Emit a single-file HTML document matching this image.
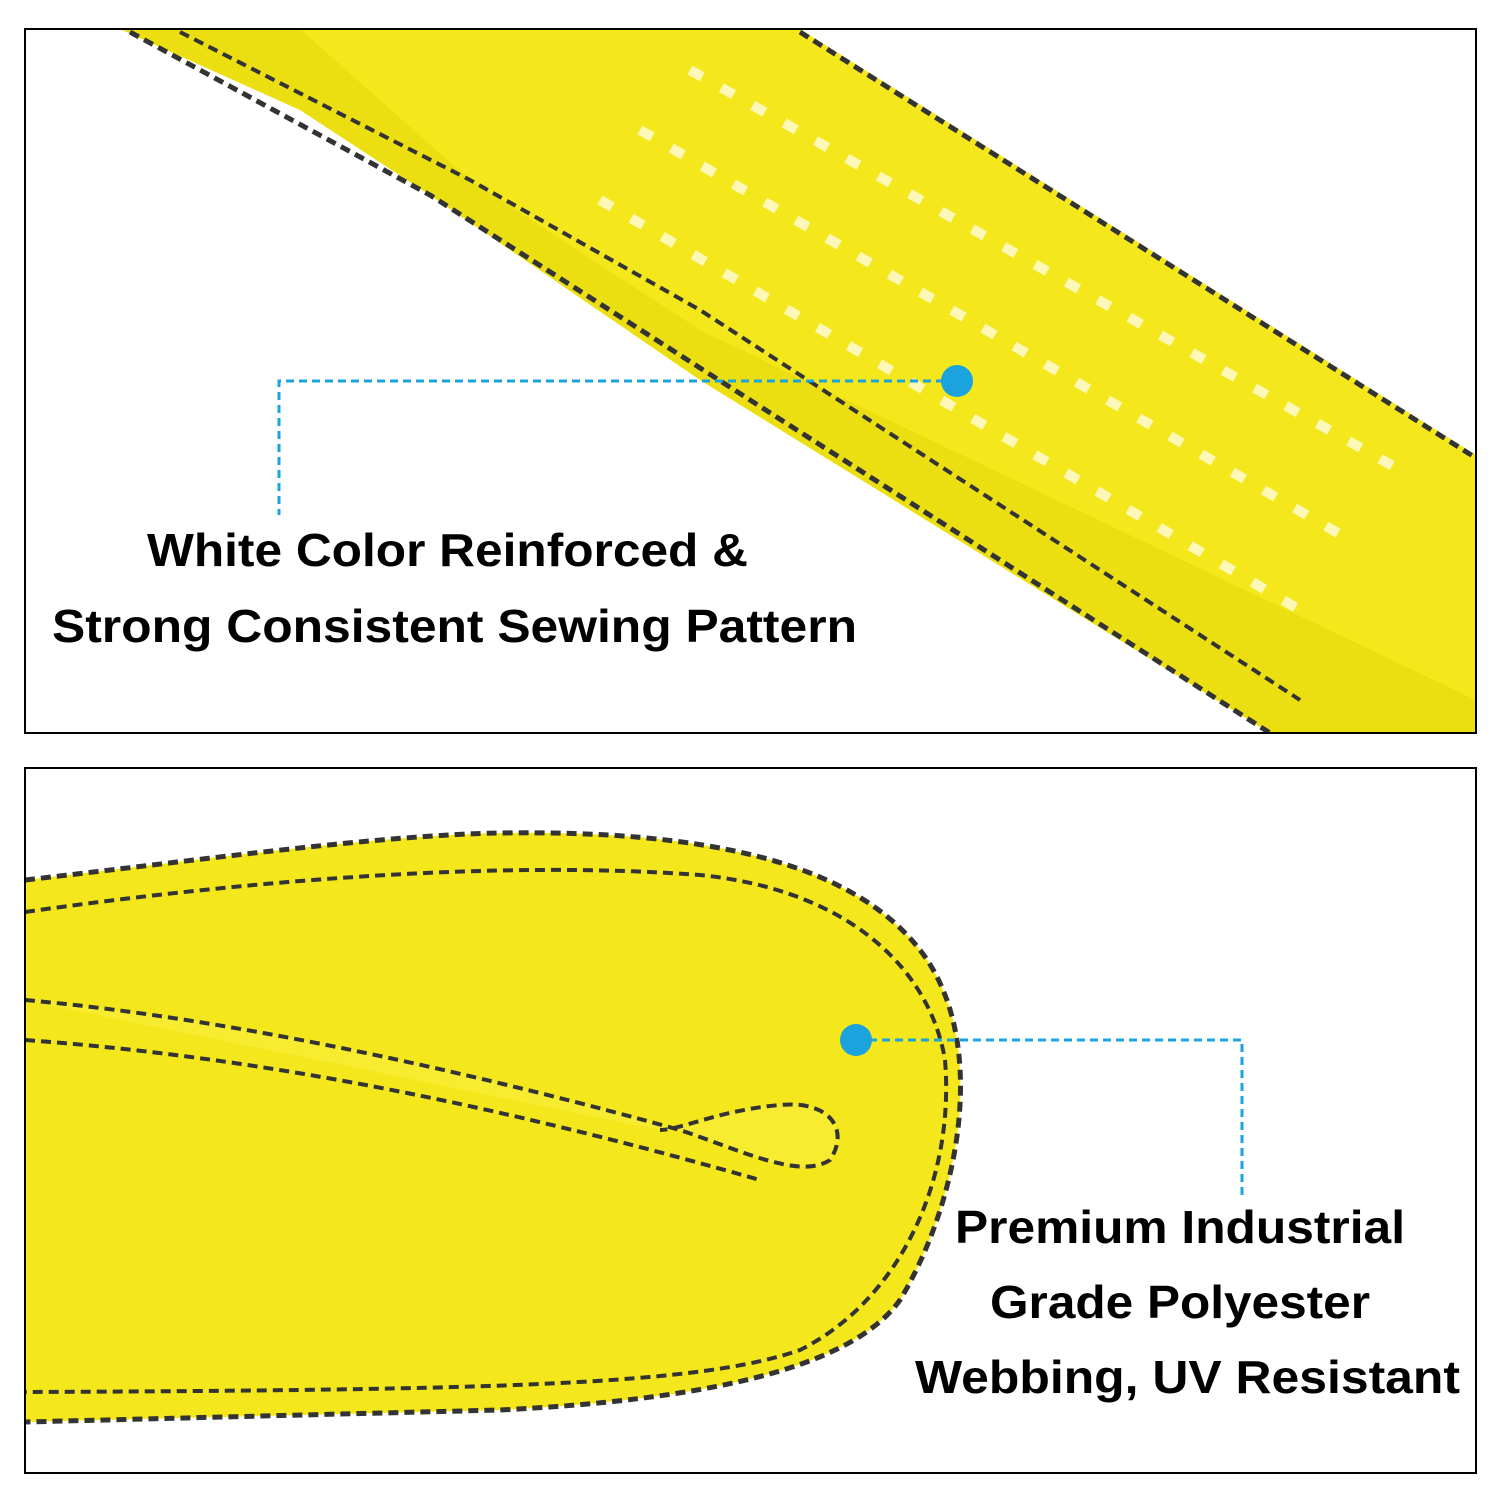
<!DOCTYPE html>
<html><head><meta charset="utf-8"><style>
html,body{margin:0;padding:0;background:#fff;}
svg{display:block}
text{font-family:"Liberation Sans",Arial,sans-serif;font-weight:bold;fill:#000;}
</style></head><body>
<svg width="1500" height="1500" viewBox="0 0 1500 1500" xmlns="http://www.w3.org/2000/svg">
<rect width="1500" height="1500" fill="#fff"/>
<clipPath id="c1"><rect x="25" y="29" width="1451" height="704"/></clipPath>
<g clip-path="url(#c1)">
<path d="M120,29 L800,29 L1476,455 L1476,733 L1270,733 L700,380 L430,195 L300,110 Z" fill="#f4e81c"/>
<path d="M120,29 L300,29 L470,180 L700,330 L1476,700 L1476,733 L1270,733 L700,380 L430,195 L300,110 Z" fill="#ebdf12"/>
<path d="M800,32 L1476,458" stroke="#333" stroke-width="5" stroke-dasharray="10,6" fill="none"/>
<path d="M130,32 L430,195 L1270,733" stroke="#333" stroke-width="5" stroke-dasharray="10,6" fill="none"/>
<path d="M180,32 L470,180 L700,310 L1300,700" stroke="#333" stroke-width="4" stroke-dasharray="10,6" fill="none"/>
<path d="M690,70 L1400,470 M640,130 L1350,540 M600,200 L1300,610" stroke="#fffbe0" stroke-width="10" stroke-dasharray="14,22" fill="none" opacity="0.8"/>
</g>
<rect x="25" y="29" width="1451" height="704" fill="none" stroke="#000" stroke-width="2"/>
<path d="M957,381 H279 V515" stroke="#1aa3dc" stroke-width="3" stroke-dasharray="8,5" fill="none"/>
<circle cx="957" cy="381" r="16" fill="#1aa3dc"/>
<text x="147" y="566" font-size="46" textLength="601" lengthAdjust="spacingAndGlyphs">White Color Reinforced &amp;</text>
<text x="52" y="642" font-size="46" textLength="805" lengthAdjust="spacingAndGlyphs">Strong Consistent Sewing Pattern</text>
<clipPath id="c2"><rect x="25" y="768" width="1451" height="705"/></clipPath>
<g clip-path="url(#c2)">
<path d="M25,880 C200,860 380,835 500,833 C700,830 850,860 920,950 C990,1040 960,1200 900,1300 C850,1370 700,1400 500,1410 L25,1422 Z" fill="#f4e81c"/>
<path d="M25,1000 C250,1020 500,1080 680,1130 C740,1150 800,1180 830,1160 C850,1130 830,1100 780,1105 C720,1110 680,1130 660,1130" fill="#f7ec30" stroke="#333" stroke-width="4" stroke-dasharray="10,6"/>
<path d="M25,1040 C300,1060 550,1120 760,1180" stroke="#333" stroke-width="4" stroke-dasharray="10,6" fill="none"/>
<path d="M25,880 C200,860 380,835 500,833 C700,830 850,860 920,950 C990,1040 960,1200 900,1300 C850,1370 700,1400 500,1410 L25,1422" stroke="#333" stroke-width="5" stroke-dasharray="10,6" fill="none"/>
<path d="M25,912 C250,880 500,860 700,875 C850,890 930,970 945,1060 C955,1180 900,1300 800,1350 C700,1385 500,1390 25,1392" stroke="#333" stroke-width="4" stroke-dasharray="10,6" fill="none"/>
</g>
<rect x="25" y="768" width="1451" height="705" fill="none" stroke="#000" stroke-width="2"/>
<path d="M856,1040 H1242 V1200" stroke="#1aa3dc" stroke-width="3" stroke-dasharray="8,5" fill="none"/>
<circle cx="856" cy="1040" r="16" fill="#1aa3dc"/>
<text x="955" y="1243" font-size="46" textLength="450" lengthAdjust="spacingAndGlyphs">Premium Industrial</text>
<text x="990" y="1318" font-size="46" textLength="380" lengthAdjust="spacingAndGlyphs">Grade Polyester</text>
<text x="915" y="1393" font-size="46" textLength="545" lengthAdjust="spacingAndGlyphs">Webbing, UV Resistant</text>
</svg>
</body></html>
